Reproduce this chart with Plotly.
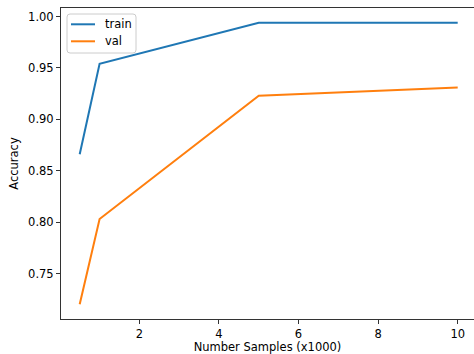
import plotly.graph_objects as go

samples = [0.5, 1, 5, 10]
train_acc = [0.866, 0.954, 0.994, 0.994]
val_acc = [0.720, 0.803, 0.923, 0.931]
y_ticks = [0.75, 0.80, 0.85, 0.90, 0.95, 1.00]
y_tick_labels = ["0.75", "0.80", "0.85", "0.90", "0.95", "1.00"]
x_ticks = [2, 4, 6, 8, 10]
series_names = ["train", "val"]
series_colors = ["#1f77b4", "#ff7f0e"]

W, H = 474, 354
ML, MR, MT, MB = 61, 0, 8, 35
font = dict(family="DejaVu Sans", size=11.5, color="black")


def px(x):
    return (x - ML) / (W - ML - MR)


def py(y):
    return (H - MB - y) / (H - MT - MB)


fig = go.Figure()
for name, ys, col in zip(series_names, [train_acc, val_acc], series_colors):
    fig.add_trace(go.Scatter(x=samples, y=ys, mode="lines", name=name,
                             line=dict(color=col, width=2), showlegend=False))

# matplotlib-style legend box (drawn in paper coordinates)
x0, x1, y0, y1, r = 67, 136, 14, 53, 3
rx, ry = r / (W - ML - MR), r / (H - MT - MB)
path = (f"M {px(x0)+rx},{py(y0)} L {px(x1)-rx},{py(y0)} "
        f"Q {px(x1)},{py(y0)} {px(x1)},{py(y0)-ry} "
        f"L {px(x1)},{py(y1)+ry} Q {px(x1)},{py(y1)} {px(x1)-rx},{py(y1)} "
        f"L {px(x0)+rx},{py(y1)} Q {px(x0)},{py(y1)} {px(x0)},{py(y1)+ry} "
        f"L {px(x0)},{py(y0)-ry} Q {px(x0)},{py(y0)} {px(x0)+rx},{py(y0)} Z")
shapes = [dict(type="path", path=path, xref="paper", yref="paper",
               fillcolor="rgba(255,255,255,0.8)", line=dict(color="#cccccc", width=1))]
annotations = []
for i, (name, col) in enumerate(zip(series_names, series_colors)):
    yy = 24.3 + i * 17
    shapes.append(dict(type="line", xref="paper", yref="paper",
                       x0=px(71), x1=px(95), y0=py(yy), y1=py(yy),
                       line=dict(color=col, width=2)))
    annotations.append(dict(text=name, xref="paper", yref="paper", x=px(103), y=py(yy),
                            xanchor="left", yanchor="middle", showarrow=False, font=font))

axis_common = dict(showgrid=False, zeroline=False, showline=True, linecolor="#333333",
                   linewidth=1, ticks="outside", ticklen=4, tickwidth=1, tickcolor="#333333",
                   tickfont=font)

fig.update_layout(
    width=W, height=H,
    margin=dict(l=ML, r=MR, t=MT, b=MB),
    paper_bgcolor="white", plot_bgcolor="white",
    font=font,
    showlegend=False,
    shapes=shapes,
    annotations=annotations,
    xaxis=dict(range=[0.03, 10.41], tickvals=x_ticks, mirror=True,
               title=dict(text="Number Samples (x1000)", font=font, standoff=4),
               **axis_common),
    yaxis=dict(range=[0.7057, 1.0083], tickvals=y_ticks, ticktext=y_tick_labels,
               title=dict(text="Accuracy", font=font, standoff=7),
               **axis_common),
)

fig.write_html("out.html", config={"displayModeBar": False},
               post_script="document.body.style.margin='0';")
